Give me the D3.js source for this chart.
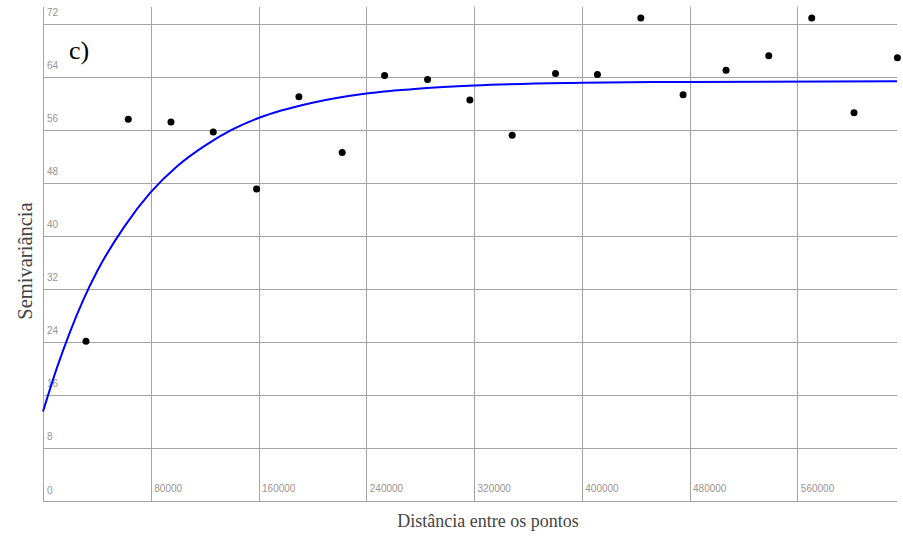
<!DOCTYPE html>
<html>
<head>
<meta charset="utf-8">
<script src="https://cdn.jsdelivr.net/npm/d3@7.9.0/dist/d3.min.js"></script>
<style>
  body { margin: 0; background: #fff; }
  svg { display: block; }
  .grid line { stroke: #a4a4a4; stroke-width: 1; shape-rendering: crispEdges; }
  .grid text { fill: #9a9590; font: 10px "Liberation Sans", Arial, sans-serif; }
  .title { font-family: "Liberation Serif", "Times New Roman", serif; fill: #444; }
</style>
</head>
<body>
<svg id="chart" width="903" height="541"></svg>
<script>
// experimental semivariogram (lag distance, semivariance)
const LAG_DIST = [31900, 63300, 95000, 126400, 158600, 190000, 222100, 253600, 285500, 316900,
                  348300, 380500, 411600, 443800, 475200, 507100, 538800, 570700, 602100, 634300];
const SEMIVAR  = [24.1, 57.6, 57.2, 55.7, 47.1, 61.0, 52.6, 64.2, 63.6, 60.5,
                  55.2, 64.5, 64.35, 72.9, 61.3, 65.0, 67.2, 72.9, 58.6, 66.9];

// fitted model
const MODEL_DIST = [0, 10000, 20000, 30000, 40000, 60000, 80000, 100000, 120000, 140000,
                    160000, 200000, 240000, 280000, 320000, 400000, 480000, 634000];
const MODEL_SEMI = [13.5, 19.9, 25.5, 30.4, 34.6, 41.3, 46.6, 50.6, 53.6, 56.0,
                    57.8, 60.1, 61.5, 62.25, 62.7, 63.1, 63.25, 63.35];

const X_TICKS = [0, 80000, 160000, 240000, 320000, 400000, 480000, 560000];
const Y_TICKS = [0, 8, 16, 24, 32, 40, 48, 56, 64, 72];

const plotL = 43, plotR = 897, plotT = 7, plotB = 501;

const svg = d3.select("#chart");

const x = d3.scaleLinear().domain([0, 634000]).range([plotL, plotR]);
const y = d3.scaleLinear().domain([0, 74.55]).range([plotB, plotT]);

// horizontal grid + labels
const gy = svg.append("g")
  .attr("class", "grid")
  .attr("transform", `translate(${plotL},0)`)
  .call(d3.axisLeft(y).tickValues(Y_TICKS).tickSize(-(plotR - plotL)).tickFormat(d3.format("d")));
gy.select(".domain").remove();
gy.selectAll("text")
  .attr("text-anchor", "start")
  .attr("x", 4)
  .attr("y", -8)
  .attr("dy", 0);

// vertical grid + labels
const gx = svg.append("g")
  .attr("class", "grid")
  .attr("transform", `translate(0,${plotB})`)
  .call(d3.axisBottom(x).tickValues(X_TICKS).tickSize(-(plotB - plotT))
    .tickFormat(d => d === 0 ? "" : d3.format("d")(d)));
gx.select(".domain").remove();
gx.selectAll("text")
  .attr("text-anchor", "start")
  .attr("x", 3)
  .attr("y", -9)
  .attr("dy", 0);

// model curve
const line = d3.line()
  .x((d, i) => x(MODEL_DIST[i]))
  .y(d => y(d))
  .curve(d3.curveMonotoneX);

svg.append("path")
  .datum(MODEL_SEMI)
  .attr("fill", "none")
  .attr("stroke", "#0000ff")
  .attr("stroke-width", 2)
  .attr("d", line);

// points
svg.append("g")
  .selectAll("circle")
  .data(SEMIVAR)
  .join("circle")
  .attr("cx", (d, i) => x(LAG_DIST[i]))
  .attr("cy", d => y(d))
  .attr("r", 3.5)
  .attr("fill", "#000");

// labels
svg.append("text")
  .attr("class", "title")
  .attr("x", 69)
  .attr("y", 59)
  .style("font-size", "26px")
  .style("fill", "#000")
  .text("c)");

svg.append("text")
  .attr("class", "title")
  .attr("transform", `translate(32,261) rotate(-90)`)
  .attr("text-anchor", "middle")
  .style("font-size", "20.5px")
  .text("Semivariância");

svg.append("text")
  .attr("class", "title")
  .attr("x", 488)
  .attr("y", 527)
  .attr("text-anchor", "middle")
  .style("font-size", "18px")
  .text("Distância entre os pontos");
</script>
</body>
</html>
